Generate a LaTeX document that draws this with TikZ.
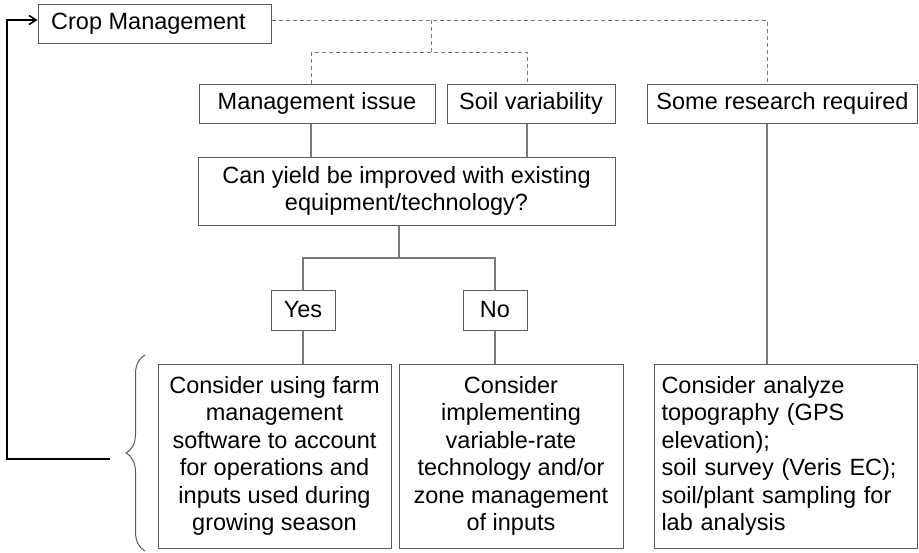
\documentclass[tikz,border=0pt]{standalone}
\usepackage{fontspec}
\setmainfont{Liberation Sans}
\usetikzlibrary{decorations.pathreplacing,arrows.meta}
\begin{document}
\begin{tikzpicture}[x=1pt,y=-1pt,
  box/.style={draw=boxgray,line width=1pt,inner sep=0pt,font=\fontsize{23.5}{27.5}\selectfont,align=center},
  conn/.style={draw=linegray,line width=1.3pt},
  dconn/.style={draw=linegray,line width=1pt,dash pattern=on 4pt off 3pt}]
\definecolor{boxgray}{HTML}{5A5A5A}
\definecolor{linegray}{HTML}{7A7A7A}
\useasboundingbox (0,0) rectangle (919,552);
\node[box,minimum width=233pt,minimum height=39pt] (cm) at (154.5,23.5) {Crop Management\hspace*{12pt}};
\node[box,minimum width=236pt,minimum height=39pt] (mi) at (317,103.5) {Management issue};
\node[box,minimum width=168pt,minimum height=39pt] (sv) at (531,103.5) {Soil variability};
\node[box,minimum width=270pt,minimum height=39pt] (sr) at (782.5,103.5) {Some research required};
\node[box,minimum width=417pt,minimum height=68pt] (q) at (406.5,191) {Can yield be improved with existing\\equipment/technology?};
\node[box,minimum width=64pt,minimum height=40pt] (yes) at (303,310) {Yes};
\node[box,minimum width=64pt,minimum height=40pt] (no) at (495,310) {No};
\node[box,minimum width=233pt,minimum height=184pt] (bl) at (274.5,456) {Consider using farm\\management\\software to account\\for operations and\\inputs used during\\growing season};
\node[box,minimum width=224pt,minimum height=184pt] (bm) at (511,456) {Consider\\implementing\\variable-rate\\technology and/or\\zone management\\of inputs};
\node[box,minimum width=263pt,minimum height=184pt,align=left,text width=249pt] (br) at (786,456) {Consider analyze\\topography (GPS\\elevation);\\soil survey (Veris EC);\\soil/plant sampling for\\lab analysis};
% dashed connectors
\coordinate (d0) at (431,20);
\coordinate (d1) at (431,52);
\draw[dconn] (cm.east |- d0) -- (767,20) -- (sr.north -| 767,0);
\draw[dconn] (d0) -- (d1);
\draw[dconn] (mi.north -| 311,0) -- (311,52) -- (527,52) -- (sv.north -| 527,0);
% solid connectors
\draw[conn] (mi.south -| 311,0) -- (q.north -| 311,0);
\draw[conn] (sv.south -| 527,0) -- (q.north -| 527,0);
\draw[conn] (q.south -| 399,0) -- (399,258);
\draw[conn] (yes.north) -- (yes.north |- 0,258) -- (no.north |- 0,258) -- (no.north);
\draw[conn] (yes.south) -- (bl.north -| yes.south);
\draw[conn] (no.south) -- (bm.north -| no.south);
\draw[conn] (sr.south -| 767,0) -- (br.north -| 767,0);
% brace
\coordinate (bb) at (145,551);
\coordinate (bt) at (145,355);
\draw[draw=boxgray,line width=1pt,decorate,decoration={brace,amplitude=19pt}] (bb) -- (bt);
% feedback arrow
\coordinate (f0) at (110,459);
\coordinate (f1) at (7,459);
\coordinate (f2) at (7,20);
\draw[black,line width=1.6pt,-{Straight Barb[length=7pt,width=9pt]}] (f0) -- (f1) -- (f2) -- (cm.west |- f2);
\end{tikzpicture}
\end{document}
